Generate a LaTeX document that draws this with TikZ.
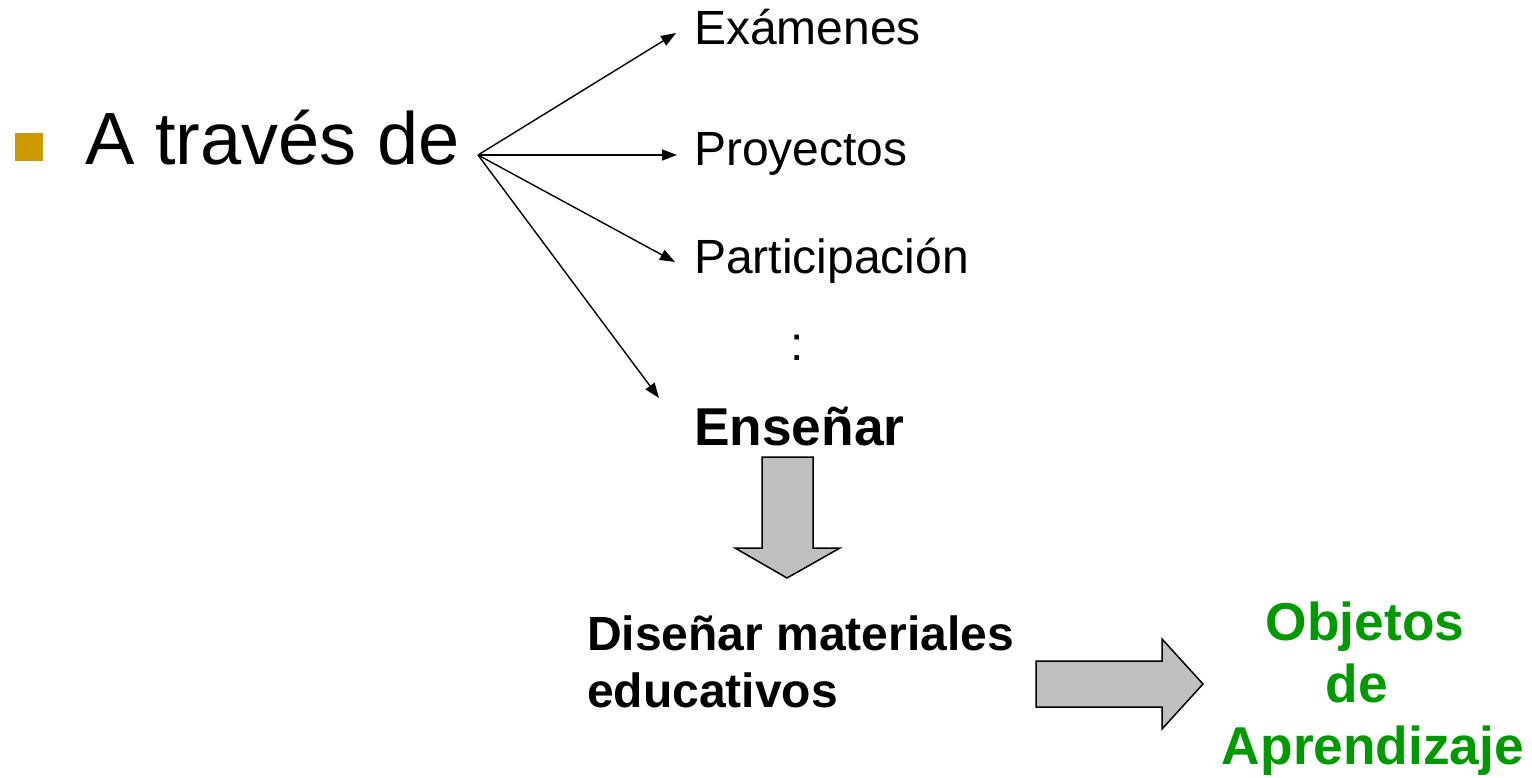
\documentclass[tikz,border=0pt]{standalone}
\usepackage{fontspec}
\setmainfont{Liberation Sans}
\usetikzlibrary{arrows.meta}
\definecolor{bulletgold}{RGB}{204,153,0}
\definecolor{objgreen}{RGB}{0,153,0}
\definecolor{blockgray}{RGB}{192,192,192}
\tikzset{
  lbl/.style={inner sep=0pt, anchor=base west, font=\fontsize{48}{57}\selectfont},
  bold/.style={inner sep=0pt, anchor=base west, font=\fontsize{48}{57}\selectfont\bfseries},
  bigbold/.style={inner sep=0pt, anchor=base west, font=\fontsize{53.3}{63}\selectfont\bfseries},
  greenlbl/.style={inner sep=0pt, anchor=base, text=objgreen, font=\fontsize{53.3}{63}\selectfont\bfseries},
  conn/.style={line width=1.4pt, -{Triangle[length=15pt,width=11pt]}},
  blockarrow/.style={fill=blockgray, draw=black, line width=1.5pt, line join=miter},
}
\begin{document}
\begin{tikzpicture}[x=1pt,y=-1pt]
\useasboundingbox (0,0) rectangle (1532,778);
% bullet
\node[fill=bulletgold, minimum width=28pt, minimum height=28pt, inner sep=0pt, anchor=north west] (bullet) at (15,133) {};
\node[inner sep=0pt, anchor=base west, font=\fontsize{74}{88}\selectfont] (atraves) at (85,165) {A través de};
% labels
\node[lbl] (exam) at (694,45) {Exámenes};
\node[lbl] (proy) at (694,166) {Proyectos};
\node[lbl] (part) at (694,273) {Participación};
\node[lbl] (dots) at (790,360) {:};
\node[bigbold] (ense) at (694,445) {Enseñar};
\node[bold] (dis1) at (587,650) {Diseñar materiales};
\node[bold] (dis2) at (587,707) {educativos};
\node[greenlbl] (obj1) at (1365,640) {Objetos};
\node[greenlbl] (obj2) at (1357,702) {de};
\node[greenlbl] (obj3) at (1373,764) {Aprendizaje};
% connectors
\coordinate (src) at (478,155);
\coordinate (tExam) at (676,33);
\coordinate (tProy) at (677,155);
\coordinate (tPart) at (675,262);
\coordinate (tEnse) at (659,398);
\draw[conn] (src) -- (tExam);
\draw[conn] (src) -- (tProy);
\draw[conn] (src) -- (tPart);
\draw[conn] (src) -- (tEnse);
% block arrows
\draw[blockarrow] (762,457) -- (813,457) -- (813,548) -- (840,548) -- (787,578) -- (735,548) -- (762,548) -- cycle;
\draw[blockarrow] (1036,661) -- (1162,661) -- (1162,639) -- (1203,684) -- (1162,729) -- (1162,707) -- (1036,707) -- cycle;
\end{tikzpicture}
\end{document}
